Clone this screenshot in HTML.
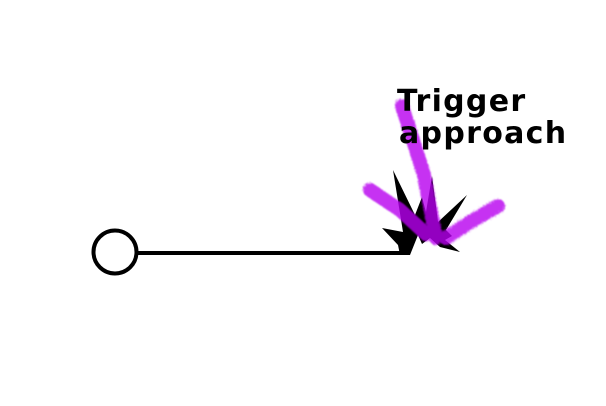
<!DOCTYPE html>
<html><head><style>
html,body{margin:0;padding:0;background:#fff;width:606px;height:406px;overflow:hidden}
svg{position:absolute;left:0;top:0}
text{font-family:"DejaVu Sans","Liberation Sans",sans-serif;font-weight:bold;font-size:30px;letter-spacing:1.3px;fill:#000}
</style></head><body>
<svg width="606" height="406" viewBox="0 0 606 406">
<defs>
<filter id="r"><feTurbulence type="fractalNoise" baseFrequency="0.9" numOctaves="2" result="n"/><feDisplacementMap in="SourceGraphic" in2="n" scale="5"/><feGaussianBlur stdDeviation="0.8"/></filter>
</defs>
<circle cx="115" cy="252" r="21.5" fill="#fff" stroke="#000" stroke-width="4"/>
<line x1="137" y1="253" x2="406" y2="253" stroke="#000" stroke-width="4"/>
<polygon fill="#000" points="400,255 398,245 382,228 403,232 393,170 415,215 422,197 426,212 432,176 438,222 467,195 446,230 452,236 445,240 460,252 440,247 430,238 422,244 418,235 410,255"/>
<g stroke="#b800f0" stroke-width="14" stroke-linecap="round" fill="none" opacity="0.8" filter="url(#r)">
<path d="M402 106 L424 175 L436 238"/>
<path d="M370 190 L400 210 L426 234"/>
<path d="M498 206 L470 222 L446 238"/>
</g>
<text x="397" y="111">Trigger</text>
<text x="399" y="143">approach</text>
</svg>
</body></html>
